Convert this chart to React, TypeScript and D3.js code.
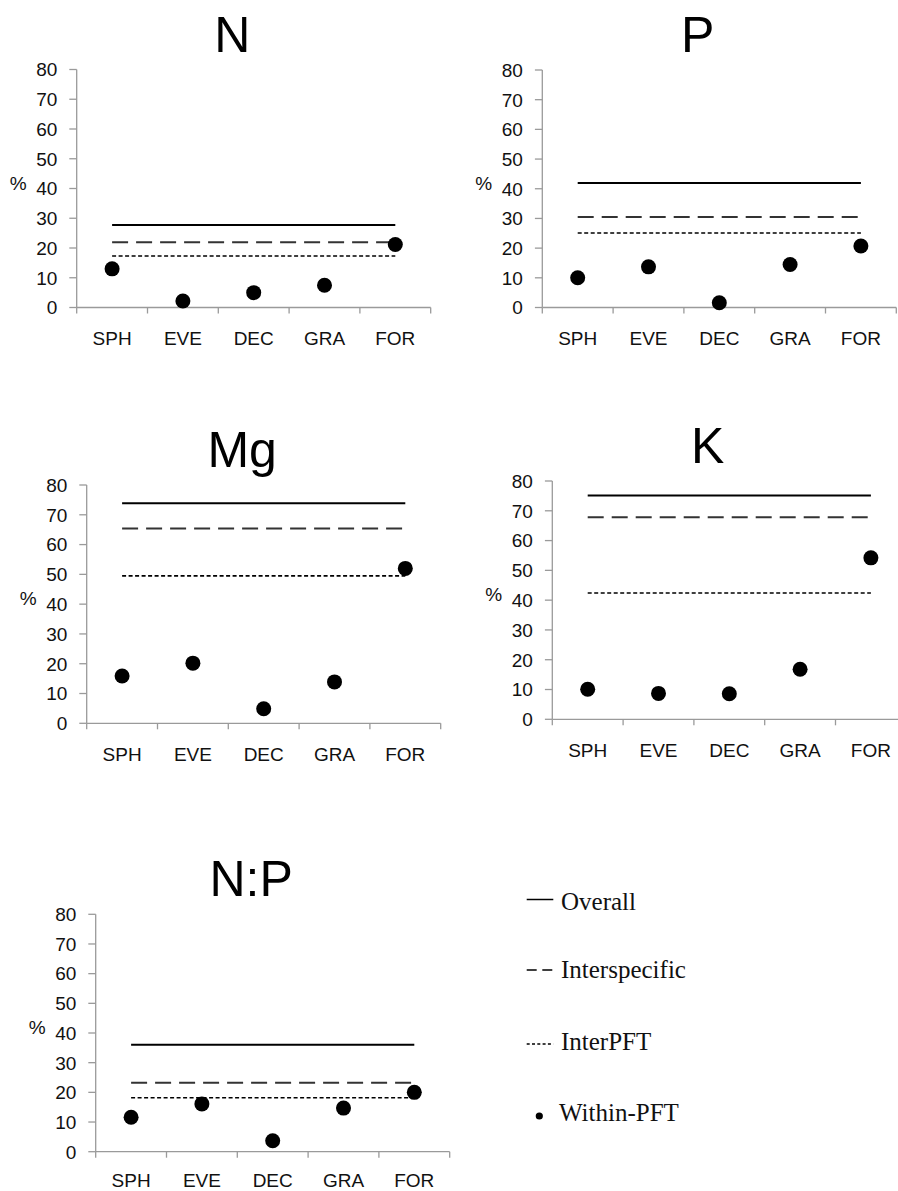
import React from "react";
import * as d3 from "d3";

const categories = ["SPH", "EVE", "DEC", "GRA", "FOR"];
const panelTitles = ["N", "P", "Mg", "K", "N:P"];
const withinN = [13.0, 2.2, 5.0, 7.5, 21.2];
const withinP = [10.0, 13.7, 1.6, 14.5, 20.7];
const withinMg = [15.9, 20.2, 4.9, 13.9, 52.0];
const withinK = [10.1, 8.7, 8.6, 16.8, 54.2];
const withinNP = [11.6, 16.1, 3.7, 14.7, 20.0];
const overall = [27.7, 41.9, 73.9, 75.1, 36.0];
const interspecific = [21.9, 30.5, 65.4, 67.8, 23.2];
const interPFT = [17.3, 25.1, 49.5, 42.4, 18.2];
const yTicks = [0, 10, 20, 30, 40, 50, 60, 70, 80];
const legendLabels = ["Overall", "Interspecific", "InterPFT", "Within-PFT"];

const withinAll = [withinN, withinP, withinMg, withinK, withinNP];

// layout: axis x, pixel of 80, pixel of 0, label offset
const layout = [
  { ax: 76.7, top: 69.5, bottom: 307.5, lab: 37.5 },
  { ax: 542.3, top: 70, bottom: 307.5, lab: 37.5 },
  { ax: 86.7, top: 485, bottom: 723.3, lab: 37.5 },
  { ax: 552.3, top: 481, bottom: 719.3, lab: 38 },
  { ax: 95.7, top: 914.3, bottom: 1151.7, lab: 35 },
];

const BAND = 70.8;
const AXIS = "#9a9a9a";
const SANS = "'Liberation Sans', Arial, sans-serif";
const SERIF = "'Liberation Serif', 'Times New Roman', serif";

function Panel({ i }: { i: number }) {
  const L = layout[i];
  const x = d3.scaleBand<string>().domain(categories).range([L.ax, L.ax + BAND * categories.length]);
  const y = d3.scaleLinear().domain([0, 80]).range([L.bottom, L.top]);
  const cx = (c: string) => (x(c) as number) + x.bandwidth() / 2;
  const x1 = cx(categories[0]);
  const x2 = cx(categories[categories.length - 1]);
  const edges = categories.map((c) => x(c) as number).concat([L.ax + BAND * categories.length]);
  return (
    <g>
      <text x={L.ax + 155.5} y={L.top - 18} textAnchor="middle" fontFamily={SANS} fontSize={50} fill="#000">
        {panelTitles[i]}
      </text>
      <text x={L.ax - 58.5} y={L.bottom - 124.5} textAnchor="middle" dominantBaseline="central" fontFamily={SANS} fontSize={19} fill="#111">
        %
      </text>
      <line x1={L.ax} x2={L.ax} y1={y(80)} y2={y(0)} stroke={AXIS} strokeWidth={1.3} />
      {yTicks.map((t) => (
        <g key={t}>
          <line x1={L.ax - 7.4} x2={L.ax} y1={y(t)} y2={y(t)} stroke={AXIS} strokeWidth={1.3} />
          <text x={L.ax - 19.4} y={y(t)} dy="0.36em" textAnchor="end" fontFamily={SANS} fontSize={19} fill="#111">
            {t}
          </text>
        </g>
      ))}
      <line x1={L.ax} x2={edges[edges.length - 1]} y1={y(0)} y2={y(0)} stroke={AXIS} strokeWidth={1.3} />
      {edges.map((e, k) => (
        <line key={k} x1={e} x2={e} y1={y(0)} y2={y(0) + 6} stroke={AXIS} strokeWidth={1.3} />
      ))}
      {categories.map((c) => (
        <text key={c} x={cx(c)} y={y(0) + L.lab} textAnchor="middle" fontFamily={SANS} fontSize={19} fill="#111">
          {c}
        </text>
      ))}
      <line x1={x1} x2={x2} y1={y(overall[i])} y2={y(overall[i])} stroke="#000" strokeWidth={2} />
      <line x1={x1} x2={x2} y1={y(interspecific[i])} y2={y(interspecific[i])} stroke="#333" strokeWidth={2} strokeDasharray="16 8" />
      <line x1={x1} x2={x2} y1={y(interPFT[i])} y2={y(interPFT[i])} stroke="#000" strokeWidth={1.6} strokeDasharray="4 2.5" />
      {categories.map((c, k) => (
        <circle key={c} cx={cx(c)} cy={y(withinAll[i][k])} r={7.5} fill="#000" />
      ))}
    </g>
  );
}

function Legend() {
  const lx1 = 526.7;
  const lx2 = 553.3;
  const tx = 561;
  return (
    <g fontFamily={SERIF} fontSize={25} fill="#111">
      <line x1={lx1} x2={lx2} y1={899.5} y2={899.5} stroke="#000" strokeWidth={1.5} />
      <text x={tx} y={910}>{legendLabels[0]}</text>
      <line x1={lx1} x2={lx2} y1={970} y2={970} stroke="#000" strokeWidth={1.5} strokeDasharray="10 5.6" />
      <text x={tx} y={977.5}>{legendLabels[1]}</text>
      <line x1={lx1} x2={lx2} y1={1044} y2={1044} stroke="#000" strokeWidth={1.3} strokeDasharray="3 2.3" />
      <text x={tx} y={1049.5}>{legendLabels[2]}</text>
      <circle cx={539.3} cy={1116} r={3.6} fill="#000" />
      <text x={559} y={1120.5}>{legendLabels[3]}</text>
    </g>
  );
}

export default function App() {
  return (
    <svg
      width={898}
      height={1191}
      style={{ position: "absolute", left: 0, top: 0, background: "#fff" }}
    >
      <rect x={0} y={0} width={898} height={1191} fill="#fff" />
      {panelTitles.map((_, i) => (
        <Panel key={i} i={i} />
      ))}
      <Legend />
    </svg>
  );
}
